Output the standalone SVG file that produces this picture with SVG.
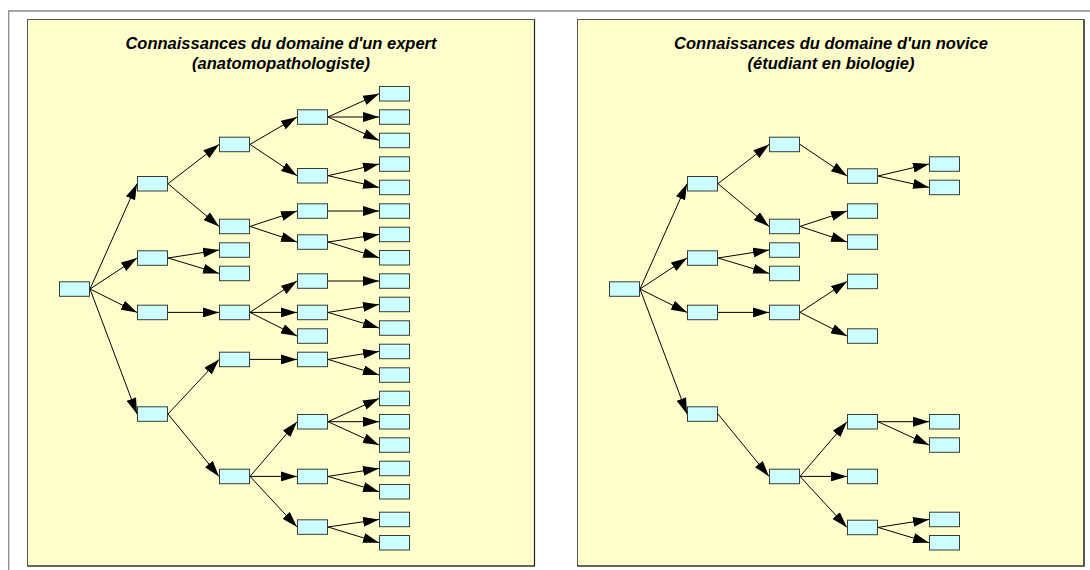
<svg xmlns="http://www.w3.org/2000/svg" width="1090" height="570" viewBox="0 0 1090 570">
  <style>
    .frame { fill: none; stroke: #8a8a8a; stroke-width: 1.3; }
    .panel { fill: #FFFFCC; stroke: #555; stroke-width: 1; }
    .panel-shadow { fill: none; stroke: #222; stroke-width: 1.2; }
    .title { font-family: "Liberation Sans", Arial, sans-serif; font-size: 16.5px; font-weight: bold; font-style: italic; fill: #000; text-anchor: middle; }
    .node use { fill: #CCFFFF; stroke: #3a3a3a; stroke-width: 1; }
    .edges line { stroke: #000; stroke-width: 1; marker-end: url(#arrow); }
  </style>
  <defs>
    <marker id="arrow" markerUnits="userSpaceOnUse" markerWidth="16" markerHeight="10" refX="16" refY="5" orient="auto">
      <path d="M0,0 L16,5 L0,10 z" fill="#000"/>
    </marker>
    <!-- one tree box; fill and stroke come from the <use> -->
    <rect id="box" width="30" height="14.5"/>
  </defs>

  <rect width="1090" height="570" fill="#fff"/>
  <!-- window frame -->
  <path class="frame" d="M8.7,570 V11 H1090"/>

  <!-- panels -->
  <rect class="panel" x="27.5" y="19.5" width="507" height="546.5"/>
  <path class="panel-shadow" d="M27.5,566 H534.5 V19.5"/>
  <rect class="panel" x="577.5" y="19.5" width="506.5" height="546.5"/>
  <path class="panel-shadow" d="M577.5,566 H1084 V19.5"/>

  <text class="title" x="281" y="49">Connaissances du domaine d'un expert</text>
  <text class="title" x="281" y="69">(anatomopathologiste)</text>
  <text class="title" x="831" y="49">Connaissances du domaine d'un novice</text>
  <text class="title" x="831" y="69">(étudiant en biologie)</text>

  <!-- expert tree -->
  <g id="expert">
    <g class="edges" id="expert-edges">
      <line x1="90" y1="289" x2="137" y2="183.7"/>
      <line x1="90" y1="289" x2="137" y2="258"/>
      <line x1="90" y1="289" x2="137" y2="312.4"/>
      <line x1="90" y1="289" x2="137" y2="414"/>
      <line x1="168" y1="183.7" x2="219" y2="144.4"/>
      <line x1="168" y1="183.7" x2="219" y2="226.4"/>
      <line x1="250" y1="144.4" x2="297" y2="117"/>
      <line x1="250" y1="144.4" x2="297" y2="175.7"/>
      <line x1="328" y1="117" x2="379" y2="93.7"/>
      <line x1="328" y1="117" x2="379" y2="117"/>
      <line x1="328" y1="117" x2="379" y2="140.4"/>
      <line x1="328" y1="175.7" x2="379" y2="164"/>
      <line x1="328" y1="175.7" x2="379" y2="187.4"/>
      <line x1="250" y1="226.4" x2="297" y2="211"/>
      <line x1="250" y1="226.4" x2="297" y2="242"/>
      <line x1="328" y1="211" x2="379" y2="211"/>
      <line x1="328" y1="242" x2="379" y2="234.4"/>
      <line x1="328" y1="242" x2="379" y2="257.7"/>
      <line x1="168" y1="258" x2="219" y2="250"/>
      <line x1="168" y1="258" x2="219" y2="273.4"/>
      <line x1="168" y1="312.4" x2="219" y2="312.4"/>
      <line x1="250" y1="312.4" x2="297" y2="281"/>
      <line x1="250" y1="312.4" x2="297" y2="312.4"/>
      <line x1="250" y1="312.4" x2="297" y2="336"/>
      <line x1="328" y1="281" x2="379" y2="281"/>
      <line x1="328" y1="312.4" x2="379" y2="304.4"/>
      <line x1="328" y1="312.4" x2="379" y2="328"/>
      <line x1="168" y1="414" x2="219" y2="359.4"/>
      <line x1="168" y1="414" x2="219" y2="476.4"/>
      <line x1="250" y1="359.4" x2="297" y2="359.4"/>
      <line x1="328" y1="359.4" x2="379" y2="351.4"/>
      <line x1="328" y1="359.4" x2="379" y2="375"/>
      <line x1="250" y1="476.4" x2="297" y2="421.7"/>
      <line x1="250" y1="476.4" x2="297" y2="476.4"/>
      <line x1="250" y1="476.4" x2="297" y2="527"/>
      <line x1="328" y1="421.7" x2="379" y2="398.4"/>
      <line x1="328" y1="421.7" x2="379" y2="421.7"/>
      <line x1="328" y1="421.7" x2="379" y2="445"/>
      <line x1="328" y1="476.4" x2="379" y2="468.4"/>
      <line x1="328" y1="476.4" x2="379" y2="491.7"/>
      <line x1="328" y1="527" x2="379" y2="519.4"/>
      <line x1="328" y1="527" x2="379" y2="542.7"/>
    </g>
    <g id="e-root" class="node"><use href="#box" x="59.5" y="281.8"/></g>
    <g id="e-a1" class="node"><use href="#box" x="137.5" y="176.5"/></g>
    <g id="e-a2" class="node"><use href="#box" x="137.5" y="250.8"/></g>
    <g id="e-a3" class="node"><use href="#box" x="137.5" y="305.2"/></g>
    <g id="e-a4" class="node"><use href="#box" x="137.5" y="406.8"/></g>
    <g id="e-b1" class="node"><use href="#box" x="219.5" y="137.2"/></g>
    <g id="e-b2" class="node"><use href="#box" x="219.5" y="219.2"/></g>
    <g id="e-b3" class="node"><use href="#box" x="219.5" y="242.8"/></g>
    <g id="e-b4" class="node"><use href="#box" x="219.5" y="266.2"/></g>
    <g id="e-b5" class="node"><use href="#box" x="219.5" y="305.2"/></g>
    <g id="e-b6" class="node"><use href="#box" x="219.5" y="352.2"/></g>
    <g id="e-b7" class="node"><use href="#box" x="219.5" y="469.2"/></g>
    <g id="e-c1" class="node"><use href="#box" x="297.5" y="109.8"/></g>
    <g id="e-c2" class="node"><use href="#box" x="297.5" y="168.5"/></g>
    <g id="e-c3" class="node"><use href="#box" x="297.5" y="203.8"/></g>
    <g id="e-c4" class="node"><use href="#box" x="297.5" y="234.8"/></g>
    <g id="e-c5" class="node"><use href="#box" x="297.5" y="273.8"/></g>
    <g id="e-c6" class="node"><use href="#box" x="297.5" y="305.2"/></g>
    <g id="e-c7" class="node"><use href="#box" x="297.5" y="328.8"/></g>
    <g id="e-c8" class="node"><use href="#box" x="297.5" y="352.2"/></g>
    <g id="e-c9" class="node"><use href="#box" x="297.5" y="414.5"/></g>
    <g id="e-c10" class="node"><use href="#box" x="297.5" y="469.2"/></g>
    <g id="e-c11" class="node"><use href="#box" x="297.5" y="519.8"/></g>
    <g id="e-d1" class="node"><use href="#box" x="379.5" y="86.5"/></g>
    <g id="e-d2" class="node"><use href="#box" x="379.5" y="109.8"/></g>
    <g id="e-d3" class="node"><use href="#box" x="379.5" y="133.2"/></g>
    <g id="e-d4" class="node"><use href="#box" x="379.5" y="156.8"/></g>
    <g id="e-d5" class="node"><use href="#box" x="379.5" y="180.2"/></g>
    <g id="e-d6" class="node"><use href="#box" x="379.5" y="203.8"/></g>
    <g id="e-d7" class="node"><use href="#box" x="379.5" y="227.2"/></g>
    <g id="e-d8" class="node"><use href="#box" x="379.5" y="250.5"/></g>
    <g id="e-d9" class="node"><use href="#box" x="379.5" y="273.8"/></g>
    <g id="e-d10" class="node"><use href="#box" x="379.5" y="297.2"/></g>
    <g id="e-d11" class="node"><use href="#box" x="379.5" y="320.8"/></g>
    <g id="e-d12" class="node"><use href="#box" x="379.5" y="344.2"/></g>
    <g id="e-d13" class="node"><use href="#box" x="379.5" y="367.8"/></g>
    <g id="e-d14" class="node"><use href="#box" x="379.5" y="391.2"/></g>
    <g id="e-d15" class="node"><use href="#box" x="379.5" y="414.5"/></g>
    <g id="e-d16" class="node"><use href="#box" x="379.5" y="437.8"/></g>
    <g id="e-d17" class="node"><use href="#box" x="379.5" y="461.2"/></g>
    <g id="e-d18" class="node"><use href="#box" x="379.5" y="484.5"/></g>
    <g id="e-d19" class="node"><use href="#box" x="379.5" y="512.2"/></g>
    <g id="e-d20" class="node"><use href="#box" x="379.5" y="535.5"/></g>
  </g>

  <!-- novice tree, same grid shifted into the right panel -->
  <g id="novice" transform="translate(550,0)">
    <g class="edges" id="novice-edges">
      <line x1="90" y1="289" x2="137" y2="183.7"/>
      <line x1="90" y1="289" x2="137" y2="258"/>
      <line x1="90" y1="289" x2="137" y2="312.4"/>
      <line x1="90" y1="289" x2="137" y2="414"/>
      <line x1="168" y1="183.7" x2="219" y2="144.4"/>
      <line x1="168" y1="183.7" x2="219" y2="226.4"/>
      <line x1="250" y1="144.4" x2="297" y2="176"/>
      <line x1="328" y1="176" x2="379" y2="164"/>
      <line x1="328" y1="176" x2="379" y2="187.4"/>
      <line x1="250" y1="226.4" x2="297" y2="211"/>
      <line x1="250" y1="226.4" x2="297" y2="242"/>
      <line x1="168" y1="258" x2="219" y2="250"/>
      <line x1="168" y1="258" x2="219" y2="273.4"/>
      <line x1="168" y1="312.4" x2="219" y2="312.4"/>
      <line x1="250" y1="312.4" x2="297" y2="281.4"/>
      <line x1="250" y1="312.4" x2="297" y2="336"/>
      <line x1="168" y1="414" x2="219" y2="476.4"/>
      <line x1="250" y1="476.4" x2="297" y2="421.7"/>
      <line x1="250" y1="476.4" x2="297" y2="476.4"/>
      <line x1="250" y1="476.4" x2="297" y2="527.4"/>
      <line x1="328" y1="421.7" x2="379" y2="421.7"/>
      <line x1="328" y1="421.7" x2="379" y2="445"/>
      <line x1="328" y1="527.4" x2="379" y2="519.4"/>
      <line x1="328" y1="527.4" x2="379" y2="542.7"/>
    </g>
    <g id="n-root" class="node"><use href="#box" x="59.5" y="281.8"/></g>
    <g id="n-a1" class="node"><use href="#box" x="137.5" y="176.5"/></g>
    <g id="n-a2" class="node"><use href="#box" x="137.5" y="250.8"/></g>
    <g id="n-a3" class="node"><use href="#box" x="137.5" y="305.2"/></g>
    <g id="n-a4" class="node"><use href="#box" x="137.5" y="406.8"/></g>
    <g id="n-b1" class="node"><use href="#box" x="219.5" y="137.2"/></g>
    <g id="n-b2" class="node"><use href="#box" x="219.5" y="219.2"/></g>
    <g id="n-b3" class="node"><use href="#box" x="219.5" y="242.8"/></g>
    <g id="n-b4" class="node"><use href="#box" x="219.5" y="266.2"/></g>
    <g id="n-b5" class="node"><use href="#box" x="219.5" y="305.2"/></g>
    <g id="n-b6" class="node"><use href="#box" x="219.5" y="469.2"/></g>
    <g id="n-c1" class="node"><use href="#box" x="297.5" y="168.8"/></g>
    <g id="n-c2" class="node"><use href="#box" x="297.5" y="203.8"/></g>
    <g id="n-c3" class="node"><use href="#box" x="297.5" y="234.8"/></g>
    <g id="n-c4" class="node"><use href="#box" x="297.5" y="274.2"/></g>
    <g id="n-c5" class="node"><use href="#box" x="297.5" y="328.8"/></g>
    <g id="n-c6" class="node"><use href="#box" x="297.5" y="414.5"/></g>
    <g id="n-c7" class="node"><use href="#box" x="297.5" y="469.2"/></g>
    <g id="n-c8" class="node"><use href="#box" x="297.5" y="520.2"/></g>
    <g id="n-d1" class="node"><use href="#box" x="379.5" y="156.8"/></g>
    <g id="n-d2" class="node"><use href="#box" x="379.5" y="180.2"/></g>
    <g id="n-d3" class="node"><use href="#box" x="379.5" y="414.5"/></g>
    <g id="n-d4" class="node"><use href="#box" x="379.5" y="437.8"/></g>
    <g id="n-d5" class="node"><use href="#box" x="379.5" y="512.2"/></g>
    <g id="n-d6" class="node"><use href="#box" x="379.5" y="535.5"/></g>
  </g>
</svg>
